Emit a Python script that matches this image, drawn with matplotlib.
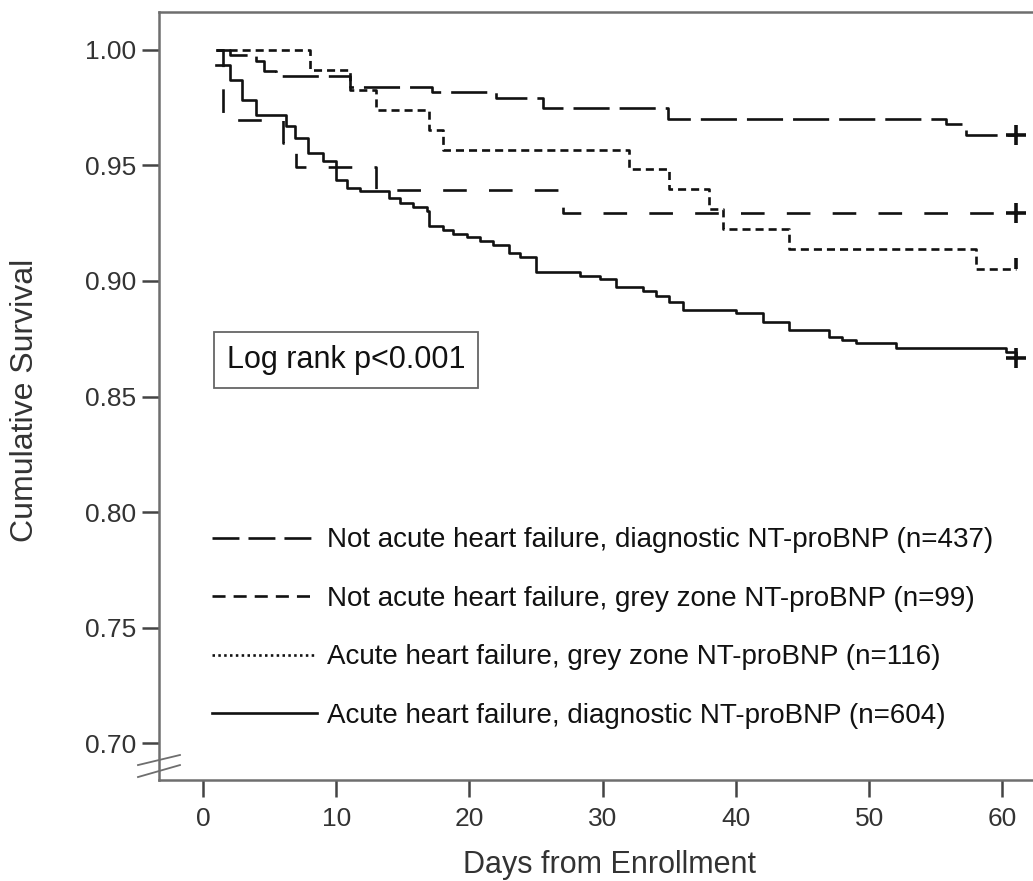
import matplotlib
matplotlib.use("Agg")
import matplotlib.pyplot as plt
from matplotlib.lines import Line2D

plt.rcParams['font.family'] = ['Liberation Sans', 'DejaVu Sans']
plt.rcParams['lines.scale_dashes'] = False

# Kaplan-Meier step data (day of event, survival after event)
ldash_days = [1, 2, 4, 4.6, 5.5, 11, 17.2, 22, 25.5, 34.9, 55.8, 57.3, 61]
ldash_surv = [1.0, 0.9977, 0.9954, 0.9908, 0.9886, 0.984, 0.9817, 0.9794, 0.9748, 0.9703, 0.968, 0.9634, 0.9634]

sdash_days = [1, 1.5, 6, 7, 13, 27, 61]
sdash_surv = [1.0, 0.9697, 0.9596, 0.9495, 0.9394, 0.9293, 0.9293]

dot_days = [1, 8, 11, 13, 17, 18, 32, 35, 38, 39, 44, 58, 61]
dot_surv = [1.0, 0.9914, 0.9828, 0.9741, 0.9655, 0.9569, 0.9483, 0.9397, 0.931, 0.9224, 0.9138, 0.9052, 0.9052]

solid_days = [1, 2, 2.9, 4, 6.2, 6.9, 7.9, 9, 10, 10.8, 11.8, 14, 14.8, 15.8, 16.8, 17, 18,
              18.8, 19.8, 20.8, 21.8, 23, 23.8, 25, 28.3, 29.8, 31, 33, 34, 35, 36, 40, 42,
              44, 47, 48, 49, 52, 60.3, 61]
solid_surv = [0.9934, 0.9868, 0.9785, 0.9719, 0.9669, 0.9619, 0.9553, 0.952, 0.9437, 0.9404,
              0.9390, 0.9360, 0.9337, 0.9321, 0.9304, 0.9238, 0.9222, 0.9205, 0.9189, 0.9172,
              0.9156, 0.9123, 0.9106, 0.904, 0.9023, 0.9007, 0.8974, 0.8958, 0.8935, 0.891,
              0.8874, 0.886, 0.8823, 0.8788, 0.8758, 0.8745, 0.8732, 0.871, 0.8693, 0.8665]

labels = ["Not acute heart failure, diagnostic NT-proBNP (n=437)",
          "Not acute heart failure, grey zone NT-proBNP (n=99)",
          "Acute heart failure, grey zone NT-proBNP (n=116)",
          "Acute heart failure, diagnostic NT-proBNP (n=604)"]

x_ticks = [0, 10, 20, 30, 40, 50, 60]
y_ticks = [0.70, 0.75, 0.80, 0.85, 0.90, 0.95, 1.00]

TXT = '#333333'
SPINE = '#6e6e6e'
LINE = '#111111'
LW = 1.9

fig = plt.figure(figsize=(10.33, 8.81), dpi=100)
ax = fig.add_axes([0.1539, 0.1146, 0.8461, 0.8717])

ax.step(ldash_days, ldash_surv, where='post', color=LINE, lw=LW, dashes=(26, 7.2))
ax.step(sdash_days, sdash_surv, where='post', color=LINE, lw=LW, dashes=(17, 16))
ax.step(dot_days, dot_surv, where='post', color=LINE, lw=LW, dashes=(5.8, 3.6))
ax.step(solid_days, solid_surv, where='post', color=LINE, lw=LW)

# censor marks at end of follow-up
ax.plot(ldash_days[-1], ldash_surv[-1], marker='+', ms=14, mew=2.6, color=LINE)
ax.plot(sdash_days[-1], sdash_surv[-1], marker='+', ms=14, mew=2.6, color=LINE)
ax.plot(solid_days[-1], solid_surv[-1], marker='+', ms=14, mew=2.6, color=LINE)
ax.plot(dot_days[-1], dot_surv[-1], marker=2, ms=8, mew=2.6, color=LINE)

ax.set_xlim(-3.3, 62.3)
ax.set_ylim(0.684, 1.0164)
ax.set_xticks(x_ticks)
ax.set_xticklabels([str(t) for t in x_ticks])
ax.set_yticks(y_ticks)
ax.set_yticklabels(["%.2f" % t for t in y_ticks])

for side in ['left', 'bottom', 'top']:
    ax.spines[side].set_color(SPINE)
    ax.spines[side].set_linewidth(1.8)
ax.spines['right'].set_visible(False)
ax.tick_params(axis='both', length=12.5, width=1.8, color='#444444',
               labelsize=19, labelcolor=TXT)
ax.tick_params(axis='x', pad=7)
ax.tick_params(axis='y', pad=4)

ax.set_xlabel("Days from Enrollment", fontsize=22, color=TXT)
ax.xaxis.set_label_coords(0.516, -0.091)
ax.set_ylabel("Cumulative Survival", fontsize=23, color=TXT)
ax.yaxis.set_label_coords(-0.136, 0.495)

# axis break
for y0, y1 in [(0.0195, 0.0326), (0.0039, 0.0195)]:
    ax.plot([-0.024, 0.024], [y0, y1], transform=ax.transAxes, color=SPINE,
            lw=1.3, clip_on=False)

ax.text(0.0778, 0.547, "Log rank p<0.001", transform=ax.transAxes, fontsize=22,
        color='#111111', ha='left', va='center',
        bbox=dict(boxstyle='square,pad=0.42', fc='white', ec='#666666', lw=1.3))

handles = [Line2D([], [], color=LINE, lw=LW, dashes=(19.4, 6.5)),
           Line2D([], [], color=LINE, lw=LW, dashes=(9.4, 5.8)),
           Line2D([], [], color=LINE, lw=LW, dashes=(1.8, 2.4)),
           Line2D([], [], color=LINE, lw=LW)]
leg = ax.legend(handles, labels, loc='upper left', bbox_to_anchor=(0.0606, 0.329),
                frameon=False, fontsize=20, handlelength=3.78, handletextpad=0.36,
                labelspacing=1.17, borderpad=0, borderaxespad=0)
for t in leg.get_texts():
    t.set_color('#111111')

fig.savefig("out.png", dpi=100)
